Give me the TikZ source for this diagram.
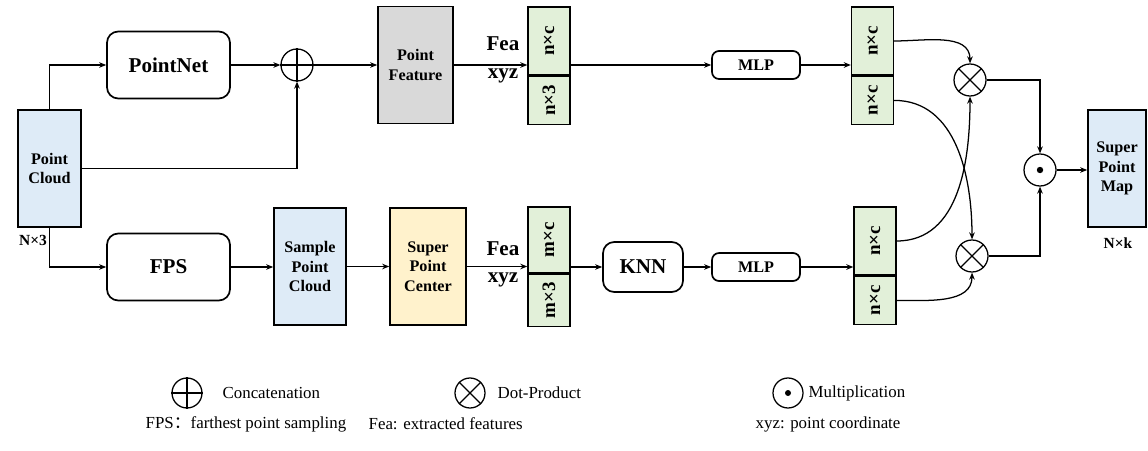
\documentclass[tikz,border=0pt]{standalone}
\usepackage{fontspec}
\setmainfont{Liberation Serif}
\newfontfamily\cjk{Noto Sans CJK SC}
\usetikzlibrary{arrows.meta}
\definecolor{cloudblue}{HTML}{DEEBF7}
\definecolor{featgray}{HTML}{D9D9D9}
\definecolor{centeryellow}{HTML}{FFF2CC}
\definecolor{cellgreen}{HTML}{E2F0D9}

\begin{document}
\begin{tikzpicture}[>={Stealth[length=5pt,width=4pt]}, line width=0.9pt,
    box/.style={rectangle, draw, line width=1.2pt, align=center, minimum height=2.925cm, font=\fontsize{11.5}{14}\selectfont\bfseries},
    rbox/.style={rectangle, draw, rounded corners=8pt, line width=1.2pt, font=\fontsize{15}{18}\selectfont\bfseries},
    cell/.style={rectangle, draw, fill=cellgreen, line width=1pt, minimum width=1.05cm, inner sep=0pt, font=\fontsize{13.5}{15}\selectfont\bfseries},
    op/.style={circle, draw, minimum size=0.8cm, inner sep=0pt},
    lbl/.style={font=\fontsize{15}{18}\selectfont\bfseries},
    dim/.style={font=\fontsize{11}{13}\selectfont\bfseries},
    legend/.style={anchor=west, inner sep=0pt, font=\fontsize{12}{14}\selectfont}]
                \useasboundingbox (0,0) rectangle (28.7,11.25);

                % Input
                \node[box, fill=cloudblue, minimum width=1.575cm] (PC) at (1.2375,7.0375) {Point\\Cloud};
                \node[dim] (N3) at (0.825,5.25) {N×3};

                % Upper branch
                \node[rbox, minimum width=3.075cm, minimum height=1.675cm] (PN) at (4.2125,9.625) {PointNet};
                \node[op] (cat) at (7.425,9.625) {};
                \draw (cat.north) -- (cat.south);
                \draw (cat.west) -- (cat.east);
                \node[box, fill=featgray, minimum width=1.875cm] (PF) at (10.3875,9.625) {Point\\Feature};
                \node[lbl] (F1) at (12.575,10.15) {Fea};
                \node[lbl] (X1) at (12.575,9.35) {xyz};
                \node[cell, minimum height=1.7cm] (A1) at (13.725,10.225) {\rotatebox{90}{n×c}};
                \node[cell, minimum height=1.2cm, anchor=north] (A2) at (A1.south) {\rotatebox{90}{n×3}};
                \node[rbox, rounded corners=5pt, minimum width=2.2cm, minimum height=0.7cm, font=\fontsize{11.5}{14}\selectfont\bfseries] (M1) at (18.9,9.625) {MLP};
                \node[cell, minimum height=1.7cm] (C1) at (21.8125,10.225) {\rotatebox{90}{n×c}};
                \node[cell, minimum height=1.2cm, anchor=north] (C2) at (C1.south) {\rotatebox{90}{n×c}};

                \draw[->] (PC.north) |- (PN.west);
                \draw[->] (PN.east) -- (cat.west);
                \draw[->] (PC.east) -| (cat.south);
                \draw[->] (cat.east) -- (PF.west);
                \draw[->] (PF.east) -- (PF.east -| A1.west);
                \draw[->] (M1.west -| A1.east) -- (M1.west);
                \draw[->] (M1.east) -- (M1.east -| C1.west);

                % Lower branch
                \node[rbox, minimum width=3.075cm, minimum height=1.675cm] (FPS) at (4.2125,4.575) {FPS};
                \node[box, fill=cloudblue, minimum width=1.8cm] (SPC) at (7.75,4.5875) {Sample\\Point\\Cloud};
                \node[box, fill=centeryellow, minimum width=1.9cm] (CEN) at (10.7,4.5875) {Super\\Point\\Center};
                \node[lbl] (F2) at (12.575,5.025) {Fea};
                \node[lbl] (X2) at (12.575,4.25) {xyz};
                \node[cell, minimum height=1.65cm] (B1) at (13.725,5.25) {\rotatebox{90}{m×c}};
                \node[cell, minimum height=1.3cm, anchor=north] (B2) at (B1.south) {\rotatebox{90}{m×3}};
                \node[rbox, minimum width=2.0cm, minimum height=1.25cm] (KNN) at (16.075,4.575) {KNN};
                \node[rbox, rounded corners=5pt, minimum width=2.2cm, minimum height=0.7cm, font=\fontsize{11.5}{14}\selectfont\bfseries] (M2) at (18.9,4.575) {MLP};
                \node[cell, minimum height=1.7cm] (D1) at (21.875,5.225) {\rotatebox{90}{n×c}};
                \node[cell, minimum height=1.2cm, anchor=north] (D2) at (D1.south) {\rotatebox{90}{n×c}};

                \draw[->] (PC.south) |- (FPS.west);
                \draw[->] (FPS.east) -- (FPS.east -| SPC.west);
                \draw[->] (SPC.east) -- (CEN.west);
                \draw[->] (CEN.east) -- (CEN.east -| B1.west);
                \draw[->] (KNN.west -| B1.east) -- (KNN.west);
                \draw[->] (KNN.east) -- (M2.west);
                \draw[->] (M2.east) -- (M2.east -| D1.west);

                % Fusion
                \node[op] (dotA) at (24.25,9.25) {};
                \draw (dotA.north east) -- (dotA.south west);
                \draw (dotA.north west) -- (dotA.south east);
                \node[op] (dotB) at (24.3,4.85) {};
                \draw (dotB.north east) -- (dotB.south west);
                \draw (dotB.north west) -- (dotB.south east);
                \node[op] (mul) at (26.0,7.0) {};
                \fill (mul) circle (0.08);
                \node[box, fill=cloudblue, minimum width=1.45cm] (SPM) at (27.925,7.0375) {Super\\Point\\Map};
                \node[dim] (Nk) at (27.95,5.175) {N×k};

                \draw[->] (C1.east) to[out=0, in=90] (dotA.north);
                \draw[->] (C2.east) to[out=0, in=90] (dotB.north);
                \draw[->] (D1.east) to[out=0, in=-90] (dotA.south);
                \draw[->] (D2.east) to[out=0, in=-90] (dotB.south);
                \draw[->] (dotA.east) -| (mul.north);
                \draw[->] (dotB.east) -| (mul.south);
                \draw[->] (mul.east) -- (mul.east -| SPM.west);

                % Legend
                \node[op, minimum size=0.75cm] (Lc) at (4.675,1.425) {};
                \draw (Lc.north) -- (Lc.south);
                \draw (Lc.west) -- (Lc.east);
                \node[legend] (Tc) at (5.55,1.425) {Concatenation};
                \node[op, minimum size=0.75cm] (Ld) at (11.75,1.425) {};
                \draw (Ld.north east) -- (Ld.south west);
                \draw (Ld.north west) -- (Ld.south east);
                \node[legend] (Td) at (12.425,1.425) {Dot-Product};
                \node[op, minimum size=0.75cm] (Lm) at (19.7,1.425) {};
                \fill (Lm) circle (0.075);
                \node[legend] (Tm) at (20.2,1.425) {Multiplication};
                \node[legend] (Tf) at (3.625,0.65) {FPS{\cjk ：}farthest point sampling};
                \node[legend] (Te) at (9.2,0.65) {Fea: extracted features};
                \node[legend] (Tx) at (18.875,0.65) {xyz: point coordinate};
            \end{tikzpicture}
\end{document}
